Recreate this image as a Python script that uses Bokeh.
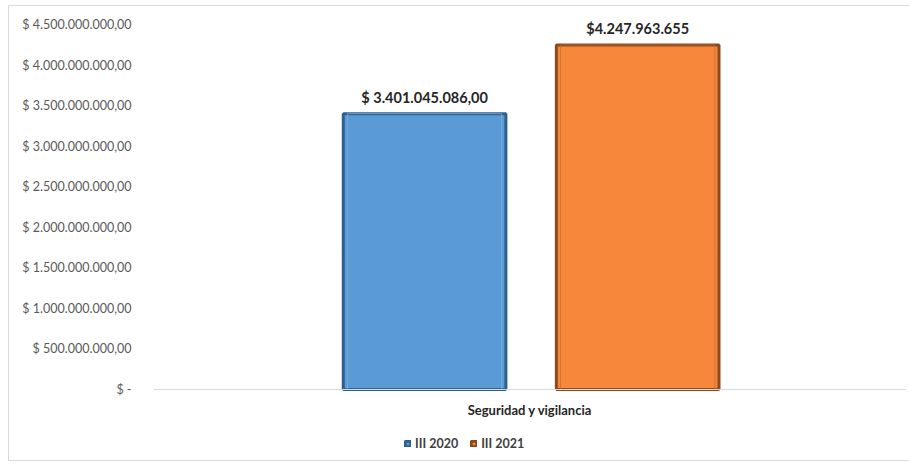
from bokeh.plotting import figure
from bokeh.models import FixedTicker, Legend, LegendItem, ColumnDataSource, Range1d, FactorRange, Span
from bokeh.transform import dodge
from bokeh.core.properties import value
from bokeh.embed import file_html
from bokeh.resources import INLINE

category = ["Seguridad y vigilancia"]
series = ["III 2020", "III 2021"]
values_2020 = [3401045086.00]
values_2021 = [4247963655]
labels_2020 = ["$ 3.401.045.086,00"]
labels_2021 = ["$4.247.963.655"]
tick_values = [0, 500e6, 1000e6, 1500e6, 2000e6, 2500e6, 3000e6, 3500e6, 4000e6, 4500e6]
tick_labels = ["$ -", "$ 500.000.000,00", "$ 1.000.000.000,00", "$ 1.500.000.000,00",
               "$ 2.000.000.000,00", "$ 2.500.000.000,00", "$ 3.000.000.000,00",
               "$ 3.500.000.000,00", "$ 4.000.000.000,00", "$ 4.500.000.000,00"]

src = ColumnDataSource(dict(cat=category, v20=values_2020, v21=values_2021,
                            l20=labels_2020, l21=labels_2021, zero=[0]))

FONT = "Lato"

p = figure(x_range=FactorRange(*category), y_range=Range1d(-0.888e9, 4.636e9),
           width=901, height=456, output_backend="svg", toolbar_location=None,
           min_border_left=144, min_border_right=4, min_border_top=7, min_border_bottom=1)
p.margin = (5, 0, 0, 8)
p.styles = {"border": "1px solid #d9d9d9", "border-right": "none", "box-sizing": "border-box"}
p.outline_line_color = None
p.grid.visible = False
p.x_range.range_padding = 0
p.xaxis.visible = False

p.add_layout(Span(location=0, dimension="width", line_color="#d9d9d9", line_width=1))

r1 = p.vbar(x=dodge("cat", -0.14, range=p.x_range), top="v20", width=0.216, source=src,
            fill_color="#5b9bd5", line_color="#2f5f8f", line_width=3)
r2 = p.vbar(x=dodge("cat", 0.143, range=p.x_range), top="v21", width=0.216, source=src,
            fill_color="#f7873a", line_color="#8a4a1e", line_width=3)
# subtle inner bevel highlight
p.vbar(x=dodge("cat", -0.14, range=p.x_range), top="v20", width=0.205, source=src,
       fill_color=None, line_color="#7fb3e3", line_width=1, line_alpha=0.7)
p.vbar(x=dodge("cat", 0.143, range=p.x_range), top="v21", width=0.205, source=src,
       fill_color=None, line_color="#c8662a", line_width=1, line_alpha=0.7)

p.text(x=dodge("cat", -0.14, range=p.x_range), y="v20", text="l20", source=src,
       text_align="center", text_baseline="bottom", y_offset=-8,
       text_font=value(FONT), text_font_style="bold", text_font_size="14.5px", text_color="#262626")
p.text(x=dodge("cat", 0.143, range=p.x_range), y="v21", text="l21", source=src,
       text_align="center", text_baseline="bottom", y_offset=-8,
       text_font=value(FONT), text_font_style="bold", text_font_size="14.5px", text_color="#262626")

# category label under the baseline
p.text(x="cat", y="zero", text="cat", source=src, text_align="center", text_baseline="middle",
       y_offset=21, text_font=value(FONT), text_font_style="bold", text_font_size="13px",
       text_color="#262626")

ya = p.yaxis[0]
ya.ticker = FixedTicker(ticks=tick_values)
ya.major_label_overrides = {v: l for v, l in zip(tick_values, tick_labels)}
ya.axis_line_color = None
ya.major_tick_line_color = None
ya.minor_tick_line_color = None
ya.major_label_text_font = FONT
ya.major_label_text_font_size = "12.5px"
ya.major_label_text_color = "#595959"
ya.major_label_standoff = 16

legend = Legend(items=[LegendItem(label=series[0], renderers=[r1]),
                       LegendItem(label=series[1], renderers=[r2])],
                orientation="horizontal", location=(251, 10),
                label_text_font=FONT, label_text_font_size="12.5px", label_text_color="#404040",
                label_text_font_style="bold",
                glyph_width=7, glyph_height=7, label_standoff=4, spacing=12,
                border_line_color=None, background_fill_alpha=0, padding=2, margin=0)
p.add_layout(legend, "center")

open("out.html", "w").write(file_html(p, INLINE))
